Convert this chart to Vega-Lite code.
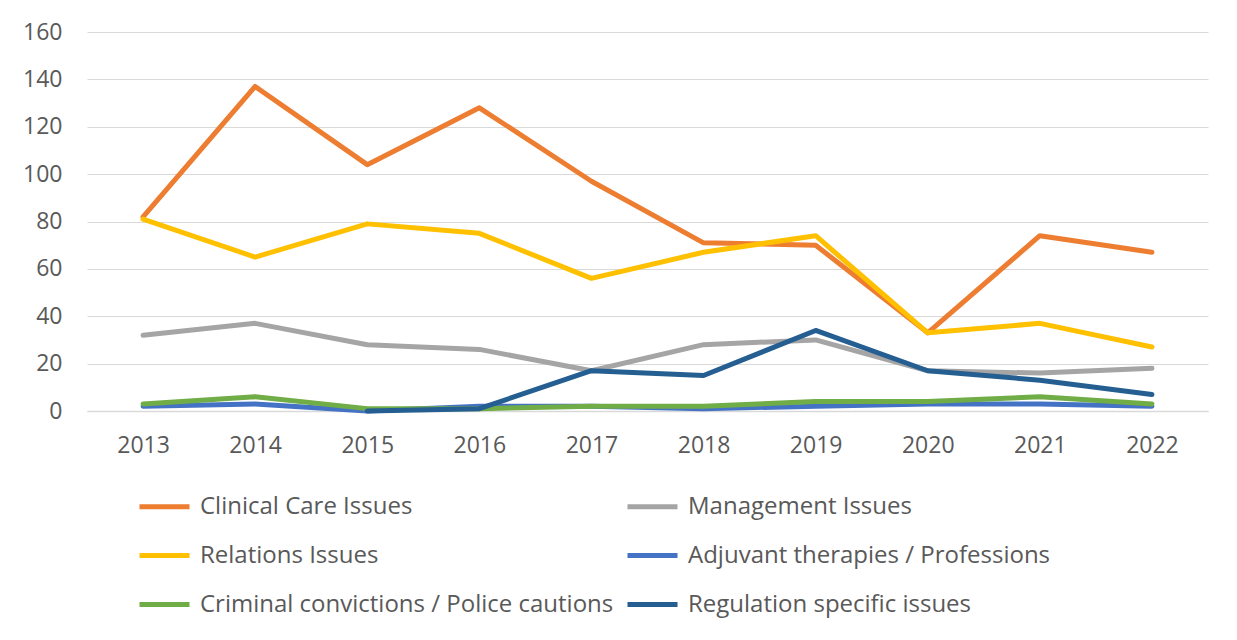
{
  "$schema": "https://vega.github.io/schema/vega-lite/v6.json",
  "autosize": {"type": "none"},
  "width": 1121,
  "height": 379,
  "padding": {"left": 87, "top": 32, "right": 29, "bottom": 229},
  "background": "white",
  "data": {"values": [
    {"year": "2013", "series": "Clinical Care Issues", "value": 82},
    {"year": "2014", "series": "Clinical Care Issues", "value": 137},
    {"year": "2015", "series": "Clinical Care Issues", "value": 104},
    {"year": "2016", "series": "Clinical Care Issues", "value": 128},
    {"year": "2017", "series": "Clinical Care Issues", "value": 97},
    {"year": "2018", "series": "Clinical Care Issues", "value": 71},
    {"year": "2019", "series": "Clinical Care Issues", "value": 70},
    {"year": "2020", "series": "Clinical Care Issues", "value": 33},
    {"year": "2021", "series": "Clinical Care Issues", "value": 74},
    {"year": "2022", "series": "Clinical Care Issues", "value": 67},
    {"year": "2013", "series": "Management Issues", "value": 32},
    {"year": "2014", "series": "Management Issues", "value": 37},
    {"year": "2015", "series": "Management Issues", "value": 28},
    {"year": "2016", "series": "Management Issues", "value": 26},
    {"year": "2017", "series": "Management Issues", "value": 17},
    {"year": "2018", "series": "Management Issues", "value": 28},
    {"year": "2019", "series": "Management Issues", "value": 30},
    {"year": "2020", "series": "Management Issues", "value": 17},
    {"year": "2021", "series": "Management Issues", "value": 16},
    {"year": "2022", "series": "Management Issues", "value": 18},
    {"year": "2013", "series": "Relations Issues", "value": 81},
    {"year": "2014", "series": "Relations Issues", "value": 65},
    {"year": "2015", "series": "Relations Issues", "value": 79},
    {"year": "2016", "series": "Relations Issues", "value": 75},
    {"year": "2017", "series": "Relations Issues", "value": 56},
    {"year": "2018", "series": "Relations Issues", "value": 67},
    {"year": "2019", "series": "Relations Issues", "value": 74},
    {"year": "2020", "series": "Relations Issues", "value": 33},
    {"year": "2021", "series": "Relations Issues", "value": 37},
    {"year": "2022", "series": "Relations Issues", "value": 27},
    {"year": "2013", "series": "Adjuvant therapies / Professions", "value": 2},
    {"year": "2014", "series": "Adjuvant therapies / Professions", "value": 3},
    {"year": "2015", "series": "Adjuvant therapies / Professions", "value": 0},
    {"year": "2016", "series": "Adjuvant therapies / Professions", "value": 2},
    {"year": "2017", "series": "Adjuvant therapies / Professions", "value": 2},
    {"year": "2018", "series": "Adjuvant therapies / Professions", "value": 1},
    {"year": "2019", "series": "Adjuvant therapies / Professions", "value": 2},
    {"year": "2020", "series": "Adjuvant therapies / Professions", "value": 3},
    {"year": "2021", "series": "Adjuvant therapies / Professions", "value": 3},
    {"year": "2022", "series": "Adjuvant therapies / Professions", "value": 2},
    {"year": "2013", "series": "Criminal convictions / Police cautions", "value": 3},
    {"year": "2014", "series": "Criminal convictions / Police cautions", "value": 6},
    {"year": "2015", "series": "Criminal convictions / Police cautions", "value": 1},
    {"year": "2016", "series": "Criminal convictions / Police cautions", "value": 1},
    {"year": "2017", "series": "Criminal convictions / Police cautions", "value": 2},
    {"year": "2018", "series": "Criminal convictions / Police cautions", "value": 2},
    {"year": "2019", "series": "Criminal convictions / Police cautions", "value": 4},
    {"year": "2020", "series": "Criminal convictions / Police cautions", "value": 4},
    {"year": "2021", "series": "Criminal convictions / Police cautions", "value": 6},
    {"year": "2022", "series": "Criminal convictions / Police cautions", "value": 3},
    {"year": "2015", "series": "Regulation specific issues", "value": 0},
    {"year": "2016", "series": "Regulation specific issues", "value": 1},
    {"year": "2017", "series": "Regulation specific issues", "value": 17},
    {"year": "2018", "series": "Regulation specific issues", "value": 15},
    {"year": "2019", "series": "Regulation specific issues", "value": 34},
    {"year": "2020", "series": "Regulation specific issues", "value": 17},
    {"year": "2021", "series": "Regulation specific issues", "value": 13},
    {"year": "2022", "series": "Regulation specific issues", "value": 7}
  ]},
  "mark": {"type": "line", "strokeWidth": 5, "strokeCap": "round", "strokeJoin": "round"},
  "encoding": {
    "x": {
      "field": "year", "type": "ordinal", "title": null,
      "scale": {"type": "point", "padding": 0.5},
      "axis": {"labelAngle": 0, "labelFontSize": 23, "labelColor": "#595959", "labelPadding": 23, "ticks": false, "domainColor": "#d9d9d9", "domainWidth": 1.5, "grid": false}
    },
    "y": {
      "field": "value", "type": "quantitative", "title": null,
      "scale": {"domain": [0, 160], "nice": false},
      "axis": {"values": [0, 20, 40, 60, 80, 100, 120, 140, 160], "labelFontSize": 23, "labelColor": "#595959", "labelPadding": 25, "ticks": false, "domain": false, "gridColor": "#d9d9d9", "gridWidth": 1.2}
    },
    "color": {
      "field": "series", "type": "nominal", "title": null,
      "sort": ["Clinical Care Issues", "Management Issues", "Relations Issues", "Adjuvant therapies / Professions", "Criminal convictions / Police cautions", "Regulation specific issues"],
      "scale": {
        "domain": ["Clinical Care Issues", "Management Issues", "Relations Issues", "Adjuvant therapies / Professions", "Criminal convictions / Police cautions", "Regulation specific issues"],
        "range": ["#ED7D31", "#A5A5A5", "#FFC000", "#4472C4", "#70AD47", "#255E91"]
      },
      "legend": {
        "orient": "none", "legendX": 50, "legendY": 447, "direction": "horizontal", "columns": 2,
        "symbolType": "stroke", "symbolSize": 2500, "symbolStrokeWidth": 5,
        "labelFontSize": 24, "labelColor": "#595959", "labelLimit": 700, "labelOffset": 8,
        "rowPadding": 9, "columnPadding": 3
      }
    }
  },
  "config": {
    "font": "Open Sans",
    "view": {"stroke": null}
  }
}
